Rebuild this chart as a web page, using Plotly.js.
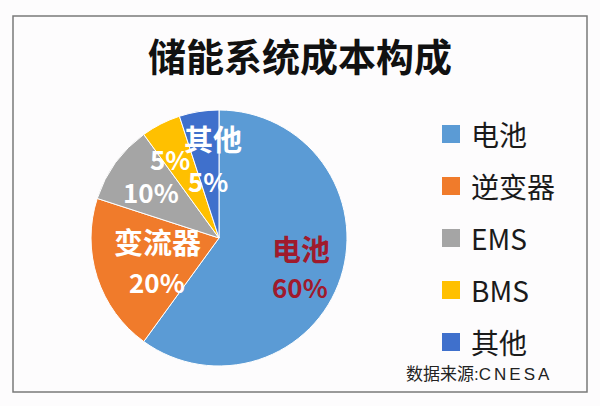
<!DOCTYPE html>
<html>
<head>
<meta charset="utf-8">
<script src="https://cdn.plot.ly/plotly-3.0.1.min.js"></script>
<style>html,body{margin:0;padding:0;background:#fff;}#chart{width:600px;height:406px;}</style>
</head>
<body>
<div id="chart"></div>
<script>
// ---- data ----
const chartTitle = '储能系统成本构成';
const labels = ['电池', '逆变器', 'EMS', 'BMS', '其他'];
const values = [60, 20, 10, 5, 5];
const sliceNames = ['电池', '变流器', '', '', '其他'];
const colors = ['#5b9bd5', '#f07b2b', '#a5a5a5', '#ffc000', '#3f70cc'];
const sourceLabel = '数据来源:';
const sourceName = 'CNESA';

// ---- helpers (pixel -> paper) ----
const W = 600, H = 406;
const px = x => x / W;
const py = y => 1 - y / H;
const FONT = '"Noto Sans CJK SC", "Noto Sans", sans-serif';

const total = values.reduce((a, b) => a + b, 0);
const pct = values.map(v => Math.round(v / total * 100) + '%');

// label placement inside the pie (pixel centres of name / percent)
const namePos = [[301, 248], [158, 241], null, null, [213, 138]];
const pctPos = [[300, 286], [157, 281], [151, 191], [170, 158], [208, 180]];
const textColors = ['#a01a2c', '#ffffff', '#ffffff', '#ffffff', '#ffffff'];

const annotations = [];
const shapes = [];

// frame
shapes.push({type: 'rect', xref: 'paper', yref: 'paper',
  x0: px(13), x1: px(587), y0: py(392), y1: py(16),
  line: {color: '#7a7a7a', width: 1.5}, fillcolor: 'rgba(0,0,0,0)'});

labels.forEach((lab, i) => {
  if (namePos[i] && sliceNames[i]) {
    annotations.push({xref: 'paper', yref: 'paper', x: px(namePos[i][0]), y: py(namePos[i][1]),
      text: sliceNames[i], showarrow: false, xanchor: 'center', yanchor: 'middle', borderpad: 0,
      font: {family: FONT, size: 29, color: textColors[i], weight: 700}});
  }
  annotations.push({xref: 'paper', yref: 'paper', x: px(pctPos[i][0]), y: py(pctPos[i][1]),
    text: pct[i], showarrow: false, xanchor: 'center', yanchor: 'middle', borderpad: 0,
    font: {family: FONT, size: 26, color: textColors[i], weight: 700}});

  // legend
  const ry = 134 + i * 52;
  shapes.push({type: 'rect', xref: 'paper', yref: 'paper',
    x0: px(442), x1: px(460), y0: py(ry + 9), y1: py(ry - 9),
    fillcolor: colors[i], line: {width: 0}});
  annotations.push({xref: 'paper', yref: 'paper', x: px(469), y: py(ry),
    text: lab, showarrow: false, xanchor: 'left', yanchor: 'middle',
    font: {family: FONT, size: 28, color: '#1a1a1a'}});
});

annotations.push({xref: 'paper', yref: 'paper', x: px(404), y: py(374),
  text: sourceLabel + '<span style="letter-spacing:3px">' + sourceName + '</span>',
  showarrow: false, xanchor: 'left', yanchor: 'middle',
  font: {family: '"Liberation Sans", "Noto Sans CJK SC", sans-serif', size: 17, color: '#222'}});

const trace = {
  type: 'pie',
  labels: labels,
  values: values,
  sort: false,
  direction: 'clockwise',
  rotation: 0,
  textinfo: 'none',
  hoverinfo: 'none',
  showlegend: false,
  marker: {colors: colors, line: {color: '#ffffff', width: 1}},
  domain: {x: [px(90), px(348)], y: [py(366), py(110)]}
};

const layout = {
  width: W, height: H,
  margin: {l: 0, r: 0, t: 0, b: 0},
  paper_bgcolor: '#fdfcfd',
  showlegend: false,
  title: {text: chartTitle, x: 0.5, xanchor: 'center', y: py(58), yanchor: 'middle',
    font: {family: FONT, size: 38, color: '#111', weight: 700}},
  shapes: shapes,
  annotations: annotations
};

Plotly.newPlot('chart', [trace], layout, {staticPlot: true, displayModeBar: false});
</script>
</body>
</html>
